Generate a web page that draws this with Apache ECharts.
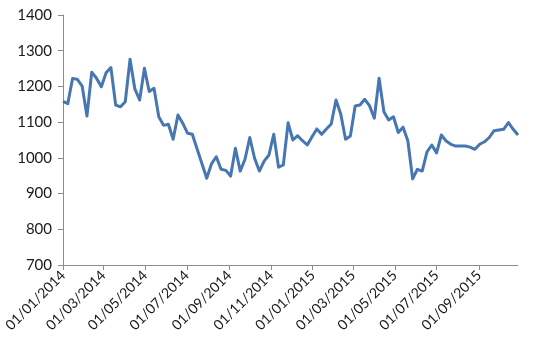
<!DOCTYPE html>
<html>
<head>
<meta charset="utf-8">
<script src="https://cdn.jsdelivr.net/npm/echarts@6/dist/echarts.min.js"></script>
<style>
html,body{margin:0;padding:0;background:#fff;}
#chart{width:546px;height:356px;}
</style>
</head>
<body>
<div id="chart"></div>
<script>
// Weekly observations starting 01/01/2014
const startDate = '2014-01-01';
const stepDays = 7;
const values = [
  1158, 1152, 1222, 1220, 1201, 1117, 1240, 1223, 1199, 1238,
  1253, 1148, 1143, 1157, 1276, 1193, 1162, 1251, 1186, 1195,
  1115, 1091, 1094, 1052, 1120, 1097, 1069, 1066, 1025, 984,
  943, 983, 1003, 968, 965, 949, 1027, 963, 996, 1057,
  999, 963, 991, 1008, 1066, 974, 980, 1098, 1050, 1062,
  1048, 1036, 1059, 1081, 1066, 1081, 1095, 1162, 1122, 1052,
  1061, 1145, 1148, 1164, 1146, 1111, 1223, 1129, 1106, 1115,
  1071, 1086, 1048, 941, 968, 963, 1017, 1036, 1014, 1064,
  1047, 1038, 1033, 1033, 1033, 1030, 1024, 1038, 1045, 1057,
  1076, 1078, 1080, 1099, 1080, 1064
];
const xTickLabels = ['01/01/2014','01/03/2014','01/05/2014','01/07/2014','01/09/2014','01/11/2014',
  '01/01/2015','01/03/2015','01/05/2015','01/07/2015','01/09/2015'];
const yTicks = [700, 800, 900, 1000, 1100, 1200, 1300, 1400];

const DAY = 86400000;
function parseDMY(s){ const p = s.split('/'); return Date.UTC(+p[2], +p[1]-1, +p[0]) / DAY; }
const sp = startDate.split('-');
const startDay = Date.UTC(+sp[0], +sp[1]-1, +sp[2]) / DAY;
const days = values.map((v, i) => startDay + i*stepDays);
const seriesData = values.map((v, i) => [days[i], v]);
const tickDays = xTickLabels.map(parseDMY);

const chart = echarts.init(document.getElementById('chart'));
chart.setOption({
  animation: false,
  backgroundColor: '#ffffff',
  grid: { left: 63, right: 28, top: 15, bottom: 91, containLabel: false },
  xAxis: {
    type: 'value',
    min: days[0],
    max: days[days.length-1],
    axisLine: { show: true, onZero: false, lineStyle: { color: '#8c8c8c', width: 1 } },
    axisTick: { show: true, length: 5, customValues: tickDays, lineStyle: { color: '#8c8c8c' } },
    splitLine: { show: false },
    axisLabel: {
      customValues: tickDays,
      rotate: 45,
      margin: 8,
      color: '#1a1a1a',
      fontFamily: 'Lato',
      fontSize: 14,
      formatter: function (val) {
        const i = tickDays.indexOf(val);
        return i >= 0 ? xTickLabels[i] : '';
      }
    }
  },
  yAxis: {
    type: 'value',
    min: yTicks[0],
    max: yTicks[yTicks.length-1],
    interval: 100,
    axisLine: { show: true, lineStyle: { color: '#8c8c8c', width: 1 } },
    axisTick: { show: true, length: 5, lineStyle: { color: '#8c8c8c' } },
    splitLine: { show: false },
    axisLabel: {
      color: '#1a1a1a', fontFamily: 'Lato', fontSize: 15, margin: 11,
      formatter: function (v) { return String(v); }
    }
  },
  series: [{
    type: 'line',
    data: seriesData,
    showSymbol: false,
    symbol: 'none',
    lineStyle: { color: '#4677B2', width: 3, join: 'round' },
    itemStyle: { color: '#4677B2' }
  }]
});
</script>
</body>
</html>
